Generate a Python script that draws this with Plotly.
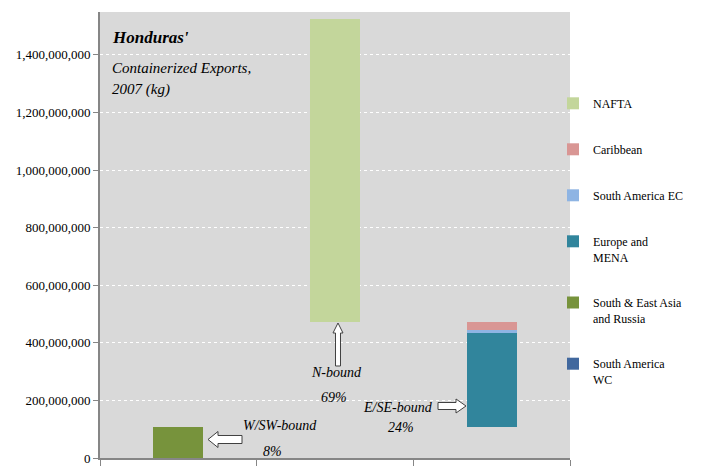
import plotly.graph_objects as go

# ---- data ----
categories = ["W/SW-bound", "N-bound", "E/SE-bound"]
series_names = ["South America WC", "South & East Asia and Russia", "Europe and MENA",
                "South America EC", "Caribbean", "NAFTA"]
legend_labels = ["South America<br>WC", "South & East Asia<br>and Russia", "Europe and<br>MENA",
                 "South America EC", "Caribbean", "NAFTA"]
sa_wc = [0, 0, 0]
se_asia_russia = [107e6, 0, 0]
europe_mena = [0, 0, 327e6]
sa_ec = [0, 0, 12e6]
caribbean = [0, 0, 25e6]
nafta = [0, 1052e6, 0]
share_labels = ["8%", "69%", "24%"]
colors = ["#41689e", "#77933c", "#31859c", "#8eb4e3", "#d99694", "#c3d69b"]

series = [sa_wc, se_asia_russia, europe_mena, sa_ec, caribbean, nafta]
totals = [sum(s[i] for s in series) for i in range(len(categories))]
# waterfall order: W/SW first, then E/SE, then N
w_i, n_i, e_i = 0, 1, 2
base = [0, 0, 0]
base[e_i] = totals[w_i]
base[n_i] = totals[w_i] + totals[e_i]

# page has an 8px body margin: the figure starts at (8, 8) of the window
OFF = 8
W, H = 701 - OFF, 467 - OFF
PL, PR, PT, PB = 100, 570, 12, 458          # plot area in window pixels
L, R, T, B = PL - OFF, W - (PR - OFF), PT - OFF, H - (PB - OFF)
PW, PH = PR - PL, PB - PT


def P(x, y):
    return (x - PL) / PW, (PB - y) / PH


fig = go.Figure()
fig.add_trace(go.Bar(x=categories, y=base, marker=dict(color="rgba(0,0,0,0)", line=dict(width=0)),
                     showlegend=False, hoverinfo="skip", width=0.32))
n = len(series_names)
for k, (name, lab, vals, col) in enumerate(zip(series_names, legend_labels, series, colors)):
    fig.add_trace(go.Bar(x=categories, y=vals, name=lab, marker=dict(color=col, line=dict(width=0)),
                         width=0.32, legendgroup=name, legendrank=n - k))

serif = "Liberation Serif"
ann = []


def text(x, y, s, size=14, italic=True, anchor="center", bold=False):
    px, py = P(x, y)
    t = s
    if italic:
        t = "<i>" + t + "</i>"
    if bold:
        t = "<b>" + t + "</b>"
    ann.append(dict(x=px, y=py, xref="paper", yref="paper", text=t, showarrow=False,
                    xanchor=anchor, yanchor="middle",
                    font=dict(family=serif, size=size, color="#000000")))


text(110, 38, "Honduras'", size=17, bold=True, anchor="left")
text(110, 68, "Containerized Exports,", size=15, anchor="left")
text(110, 90, "2007 (kg)", size=15, anchor="left")

text(280, 425, categories[0], size=14)
text(272, 451, share_labels[0], size=14)
text(336, 372, categories[1], size=14)
text(334, 397, share_labels[1], size=14)
text(398, 407, categories[2], size=14)
text(401, 427, share_labels[2], size=14)

shapes = []


def path(points):
    d = ""
    for k, (x, y) in enumerate(points):
        px, py = P(x, y)
        d += ("M" if k == 0 else "L") + f"{px:.5f},{py:.5f}"
    d += "Z"
    shapes.append(dict(type="path", xref="paper", yref="paper", path=d,
                       fillcolor="#ffffff", line=dict(color="#404040", width=1)))


# left arrow (W/SW)
tx, ty = 208, 439.5
path([(tx, ty), (tx + 10, ty - 8), (tx + 10, ty - 4), (242, ty - 4), (242, ty + 4),
      (tx + 10, ty + 4), (tx + 10, ty + 8)])
# up arrow (N)
ux, uy = 338, 323
path([(ux, uy), (ux + 5, uy + 10), (ux + 2.5, uy + 10), (ux + 2.5, 366), (ux - 2.5, 366),
      (ux - 2.5, uy + 10), (ux - 5, uy + 10)])
# right arrow (E/SE)
rx, ry = 466, 406
path([(rx, ry), (rx - 10, ry - 7), (rx - 10, ry - 3.5), (438, ry - 3.5), (438, ry + 3.5),
      (rx - 10, ry + 3.5), (rx - 10, ry + 7)])

lx, ly = P(553, 89)
fig.update_layout(
    width=W, height=H, margin=dict(l=L, r=R, t=T, b=B, autoexpand=False),
    barmode="stack", plot_bgcolor="#d9d9d9", paper_bgcolor="#ffffff",
    font=dict(family=serif, size=13, color="#000000"),
    showlegend=True,
    legend=dict(x=lx, xanchor="left", y=ly, yanchor="top", traceorder="grouped",
                tracegroupgap=27, valign="top", font=dict(family=serif, size=12),
                itemclick=False, bgcolor="rgba(0,0,0,0)", itemwidth=30),
    annotations=ann, shapes=shapes,
    xaxis=dict(type="category", showticklabels=False, tickson="boundaries", ticks="outside",
               ticklen=6, tickcolor="#868686", showline=True, linecolor="#868686", linewidth=2,
               showgrid=False, range=[-0.5, 2.5], automargin=False),
    yaxis=dict(range=[0, 1549e6], dtick=200e6, tickformat=",", ticks="outside", ticklen=5,
               tickcolor="#868686", showline=True, linecolor="#868686", linewidth=2,
               showgrid=True, gridcolor="#ffffff", griddash="dot", gridwidth=1,
               zeroline=False, automargin=False, tickfont=dict(family=serif, size=13)),
)

fig.write_html("out.html")
